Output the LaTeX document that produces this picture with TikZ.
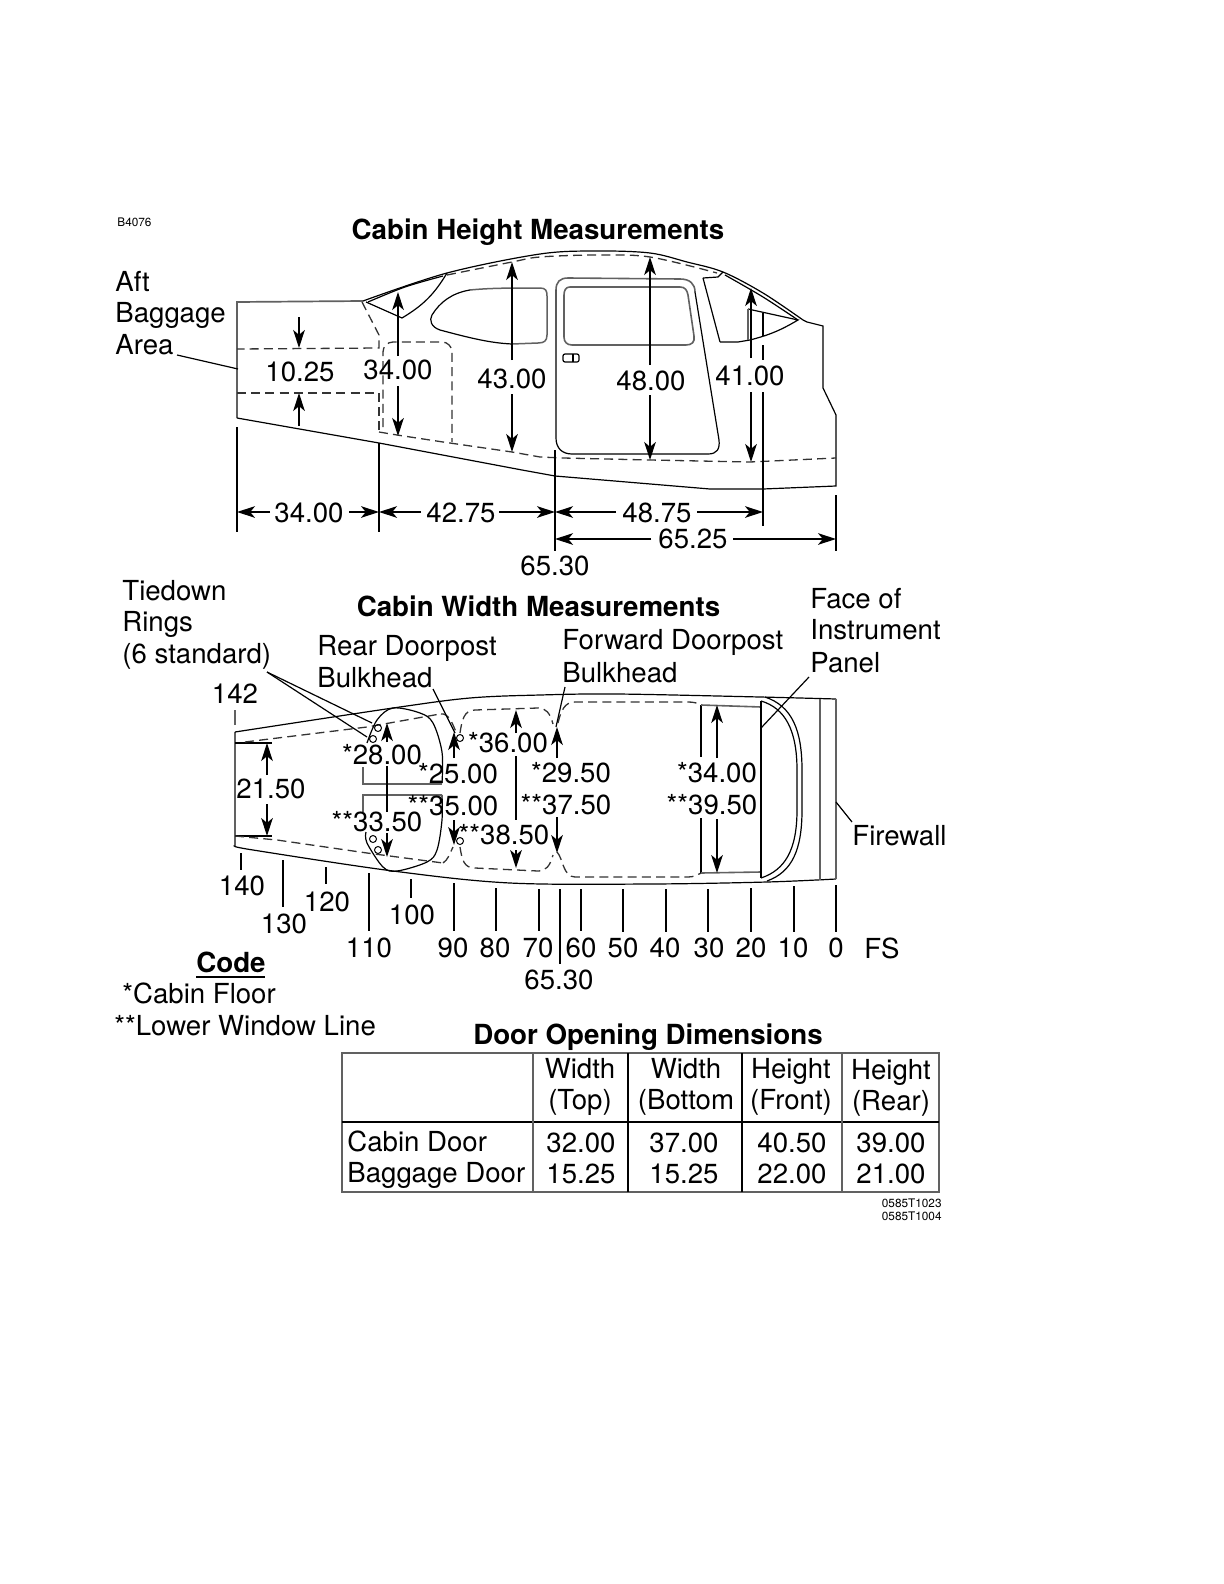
\documentclass[tikz,border=0pt]{standalone}
\usepackage{fontspec}
\setmainfont{TeX Gyre Heros}
\usetikzlibrary{arrows.meta}
\newcommand\lc[4]{\node[txt,anchor=base] (#1) at (#2,#3) {#4};}
\newcommand\lw[4]{\node[txt,anchor=base west] (#1) at (#2-1,#3) {#4};}
\tikzset{
  txt/.style={inner sep=0pt,font=\fontsize{13.8}{15}\selectfont},
  ttl/.style={inner sep=0pt,anchor=base,font=\fontsize{13.85}{15}\selectfont\bfseries},
  tiny/.style={inner sep=0pt,font=\fontsize{5.9}{7}\selectfont},
  ln/.style={draw=black,line width=0.6pt},
  gl/.style={draw=black!62,line width=0.85pt},
  dsh/.style={draw=black!80,line width=0.65pt,dash pattern=on 4.5pt off 2.6pt},
  dim/.style={draw=black,line width=0.6pt,-{Stealth[length=9pt,width=5.8pt,inset=2.4pt]}},
  sm/.style={smooth,tension=0.55},
}
\begin{document}
\begin{tikzpicture}[x=0.5pt,y=-0.5pt]
\useasboundingbox (0,0) rectangle (1224,1584);
% ---------- Side view ----------
\draw[gl] (363,301) -- (237,302) -- (237,418);
\draw[ln] (237,418) -- (379,443) -- (522,470) -- (555,476) -- (710,489) -- (763,489) -- (836,486) -- (836,415) -- (823,388) -- (823,326) -- (807,322) -- (803,320);
\draw[ln] plot[sm] coordinates {(363,301) (447,273) (540,254) (597,251) (650,253) (687,262) (723,272) (763,293) (803,320)};
\draw[ln] plot[sm] coordinates {(725,275) (763,297) (798,320)};
\draw[dsh] plot[sm] coordinates {(447,275) (512,262) (540,257) (597,255) (650,257) (717,273)};
% rear quarter window
\draw[ln] (366,302) -- (402,318) to[bend right=14] (447,273);
\draw[ln] plot[sm] coordinates {(368,302) (405,287) (443,276)};
% side window
\draw[gl,line width=0.75pt] (470,290) .. controls (490,288) and (510,288) .. (540,288);
\draw[gl,line width=0.75pt] (540,288) .. controls (546,288) and (547,291) .. (547,296) -- (547,335) .. controls (547,341) and (544,343) .. (538,343) -- (512,344);
\draw[ln] (512,344) .. controls (490,343) and (470,338) .. (440,330) .. controls (431,327) and (429,320) .. (432,315) .. controls (440,302) and (452,293) .. (470,290);
% door
\draw[gl,line width=0.8pt] (556,290) .. controls (556,282) and (560,278) .. (568,278) -- (680,279) .. controls (690,279) and (695,284) .. (695,292);
\draw[ln] (695,292) -- (719,440) .. controls (720,449) and (717,454) .. (708,454) -- (572,454) .. controls (562,454) and (556,448) .. (556,438) -- (556,290);
\draw[gl,line width=0.8pt] (570,287) -- (680,287) .. controls (685,287) and (687,290) .. (688,295) -- (694,336) .. controls (695,342) and (692,345) .. (686,345) -- (572,345) .. controls (567,345) and (564,342) .. (564,337) -- (564,295) .. controls (564,290) and (566,287) .. (570,287);
\draw[ln,rounded corners=1pt] (563,354) rectangle (579,362);
\draw[ln] (573,354) -- (573,362);
% front window
\draw[ln] (703,278) -- (720,342);
\draw[ln] (703,278) -- (718,277) -- (723,272);
\draw[ln] (720,342) -- (738,342) -- (750,340) to[bend right=8] (798,320) -- (748,309);
\draw[gl,line width=0.8pt] (748,309) -- (748,340);
\draw[ln] (763,313) -- (763,336);
% baggage dashed
\draw[dsh] (362,302) -- (379,335) -- (379,348) -- (237,349);
\draw[dsh] (237,393) -- (379,393) -- (379,432);
\draw[dsh,rounded corners=5pt] (383,427) -- (383,342) -- (452,342) -- (452,442);
\draw[dsh] (379,432) -- (397,435) -- (443,442) -- (512,452) -- (540,457) -- (563,458) -- (650,460) -- (750,462) -- (836,458);
% side view dimensions
\draw[dim] (299,317) -- (299,348);
\draw[dim] (299,426) -- (299,393);
\draw[dim] (398,356) -- (398,292);
\draw[dim] (398,386) -- (398,436);
\draw[dim] (512,360) -- (512,262);
\draw[dim] (512,394) -- (512,452);
\draw[dim] (650,365) -- (650,257);
\draw[dim] (650,395) -- (650,460);
\draw[dim] (751,358) -- (751,288);
\draw[dim] (751,392) -- (751,462);
\draw[ln] (763,345) -- (763,360);
\draw[ln] (763,392) -- (763,526);
\draw[ln] (237,427) -- (237,532);
\draw[ln] (379,443) -- (379,532);
\draw[ln] (555,450) -- (555,551);
\draw[ln] (836,495) -- (836,551);
\draw[dim] (270,512) -- (237,512);
\draw[dim] (349,512) -- (379,512);
\draw[dim] (421,512) -- (379,512);
\draw[dim] (499,512) -- (555,512);
\draw[dim] (616,512) -- (555,512);
\draw[dim] (697,512) -- (763,512);
\draw[dim] (651,539) -- (555,539);
\draw[dim] (733,539) -- (836,539);
\draw[ln] (177,355) -- (238,369);
\node[tiny,anchor=base west] (b4076) at (117,226) {B4076};
\node[ttl] (t1) at (538,239) {Cabin Height Measurements};
\lw{aft}{116}{291}{Aft}
\lw{bag}{116}{322}{Baggage}
\lw{area}{116}{354}{Area}
\lc{a1}{300}{381}{10.25}
\lc{a2}{398}{379}{34.00}
\lc{a3}{512}{388}{43.00}
\lc{a4}{651}{390}{48.00}
\lc{a5}{750}{385}{41.00}
\lc{b1}{309}{522}{34.00}
\lc{b2}{461}{522}{42.75}
\lc{b3}{657}{522}{48.75}
\lc{b4}{693}{548}{65.25}
\lc{b5}{555}{575}{65.30}
% ---------- Plan view ----------
\draw[gl] (235,725) -- (235,710);
\draw[gl] (235,732) -- (235,846);
\draw[ln] plot[sm] coordinates {(235,732) (393,708) (470,698) (540,695) (617,694) (760,697) (836,699)};
\draw[ln] plot[sm] coordinates {(235,846) (253,850) (393,871) (510,883) (650,884) (767,882) (836,879)};
\draw[gl] (836,699) -- (836,879);
\draw[gl] (820,699) -- (820,880);
\draw[ln] (235,743) -- (272,743);
\draw[ln] (235,836) -- (272,836);
\draw[dsh] (245,742) -- (367,727) -- (440,714);
\draw[dsh] (441,714) .. controls (448,713) and (452,722) .. (456,732);
\draw[dsh] (235,836) -- (277,840) -- (367,853) -- (443,863);
\draw[dsh] (443,863) .. controls (448,860) and (450,853) .. (453,847);
% oval
\draw[ln] plot[sm] coordinates {(367,743) (377,720) (393,708) (420,713) (433,723) (442,752) (442,783)};
\draw[ln] plot[sm] coordinates {(442,795) (442,820) (437,850) (427,862) (397,871) (383,867) (367,843) (366,832)};
\draw[gl,line width=0.8pt] (363,767) -- (363,784) -- (442,784);
\draw[gl,line width=0.8pt] (363,812) -- (363,795) -- (442,795);
% rings
\foreach \n/\x/\y in {r1/378/728,r2/373/739,r3/373/839,r4/378/850,r5/460/738,r6/460/841}
  \draw[ln,line width=0.5pt] (\x,\y) circle[radius=3.5];
% central cabin dashed
\draw[dsh] (460,733) .. controls (462,720) and (464,710) .. (475,710) -- (538,708) .. controls (546,708) and (550,713) .. (553,724);
\draw[dsh] (460,847) .. controls (462,860) and (464,868) .. (475,868) -- (538,871) .. controls (546,871) and (550,866) .. (553,855);
\draw[dsh] (558,723) .. controls (561,710) and (565,702) .. (575,702) -- (688,702) .. controls (694,702) and (697,703) .. (701,705);
\draw[dsh] (557,852) .. controls (563,858) and (563,877) .. (575,877) -- (688,877) .. controls (694,877) and (697,875) .. (701,873);
% cockpit
\draw[ln] (701,705) -- (701,757);
\draw[ln] (701,818) -- (701,873);
\draw[gl,line width=0.8pt] (701,705) -- (761,707);
\draw[gl,line width=0.8pt] (701,873) -- (761,872);
\draw[ln] (761,701) -- (761,878);
\draw[ln] (761,701) .. controls (785,708) and (797,730) .. (797,770) -- (797,810) .. controls (797,850) and (785,870) .. (761,878);
\draw[ln] (765,697) .. controls (792,706) and (802,730) .. (802,770) -- (802,810) .. controls (802,850) and (792,872) .. (767,881);
% plan dimensions
\draw[dim] (267,775) -- (267,743);
\draw[dim] (267,804) -- (267,836);
\draw[dim] (387,742) -- (387,723);
\draw[ln] (387,766) -- (387,812);
\draw[dim] (387,833) -- (387,857);
\draw[dim] (454,758) -- (454,732);
\draw[dim] (454,820) -- (454,845);
\draw[dim] (516,733) -- (516,710);
\draw[ln] (516,756) -- (516,820);
\draw[dim] (516,850) -- (516,868);
\draw[dim] (557,758) -- (557,727);
\draw[dim] (557,817) -- (557,853);
\draw[dim] (717,758) -- (717,705);
\draw[dim] (717,819) -- (717,873);
% leaders
\draw[ln] (267,672) -- (372,723);
\draw[ln] (267,672) -- (367,737);
\draw[ln] (433,689) -- (455,733);
\draw[ln] (565,687) -- (556,727);
\draw[ln] (809,677) -- (761,728);
\draw[ln] (836,802) -- (852,822);
% station ticks
\foreach \x/\a/\b in {241/853/870,283/860/907,326/867/884,369/873/931,411/879/898,454/883/931,496/888/931,539/889/931,560/889/964,581/889/931,623/889/932,666/889/932,708/889/932,751/888/932,794/886/932,836/885/932}
  \draw[ln] (\x,\a) -- (\x,\b);
\lc{s140}{242}{895}{140}
\lc{s130}{284}{933}{130}
\lc{s120}{327}{911}{120}
\lc{s110}{369}{957}{110}
\lc{s100}{412}{924}{100}
\lc{s90}{453}{957}{90}
\lc{s80}{495}{957}{80}
\lc{s70}{538}{957}{70}
\lc{s60}{581}{957}{60}
\lc{s50}{623}{957}{50}
\lc{s40}{665}{957}{40}
\lc{s30}{709}{957}{30}
\lc{s20}{751}{957}{20}
\lc{s10}{793}{957}{10}
\lc{s0}{836}{957}{0}
\lc{fs}{882}{958}{FS}
\lc{s6530}{559}{989}{65.30}
\lc{s142}{235}{703}{142}
\lc{c1}{271}{798}{21.50}
\lc{c2}{382}{764}{*28.00}
\lc{c3}{377}{831}{**33.50}
\lc{c4}{458}{783}{*25.00}
\lc{c5}{453}{815}{**35.00}
\lc{c6}{508}{752}{*36.00}
\lc{c7}{504}{844}{**38.50}
\lc{c8}{571}{782}{*29.50}
\lc{c9}{566}{814}{**37.50}
\lc{c10}{717}{782}{*34.00}
\lc{c11}{712}{814}{**39.50}
\node[ttl] (t2) at (538.5,616) {Cabin Width Measurements};
\lw{tie}{123}{600}{Tiedown}
\lw{rin}{123}{631}{Rings}
\lw{std}{123}{663}{(6 standard)}
\lw{rd1}{318}{655}{Rear Doorpost}
\lw{rd2}{318}{687}{Bulkhead}
\lw{fd1}{563}{649}{Forward Doorpost}
\lw{fd2}{563}{682}{Bulkhead}
\lw{fa1}{811}{608}{Face of}
\lw{fa2}{811}{639}{Instrument}
\lw{fa3}{811}{672}{Panel}
\lw{fir}{853}{845}{Firewall}
% ---------- Code ----------
\node[ttl] (code) at (231,972) {Code};
\draw[ln,line width=0.8pt] (196,977) -- (265,977);
\lw{k1}{123}{1003}{*Cabin Floor}
\lw{k2}{115}{1035}{**Lower Window Line}
% ---------- Table ----------
\node[ttl] (t3) at (648,1044) {Door Opening Dimensions};
\draw[gl] (342,1053) rectangle (939,1192);
\draw[ln] (342,1122) -- (939,1122);
\draw[gl] (533,1053) -- (533,1192);
\draw[ln] (628,1053) -- (628,1192);
\draw[ln] (742,1053) -- (742,1192);
\draw[gl] (842,1053) -- (842,1192);
\lc{h1}{580}{1078}{Width}
\lc{h2}{580}{1109}{(Top)}
\lc{h3}{686}{1078}{Width}
\lc{h4}{686}{1109}{(Bottom}
\lc{h5}{791}{1078}{Height}
\lc{h6}{791}{1109}{(Front)}
\lc{h7}{891}{1079}{Height}
\lc{h8}{891}{1110}{(Rear)}
\lw{r1}{348}{1151}{Cabin Door}
\lw{r2}{348}{1182}{Baggage Door}
\lc{v1}{581}{1152}{32.00}
\lc{v2}{684}{1152}{37.00}
\lc{v3}{792}{1152}{40.50}
\lc{v4}{891}{1152}{39.00}
\lc{v5}{581}{1183}{15.25}
\lc{v6}{684}{1183}{15.25}
\lc{v7}{792}{1183}{22.00}
\lc{v8}{891}{1183}{21.00}
\node[tiny,anchor=base east] (n1) at (942,1207) {0585T1023};
\node[tiny,anchor=base east] (n2) at (942,1220) {0585T1004};
\end{tikzpicture}
\end{document}
